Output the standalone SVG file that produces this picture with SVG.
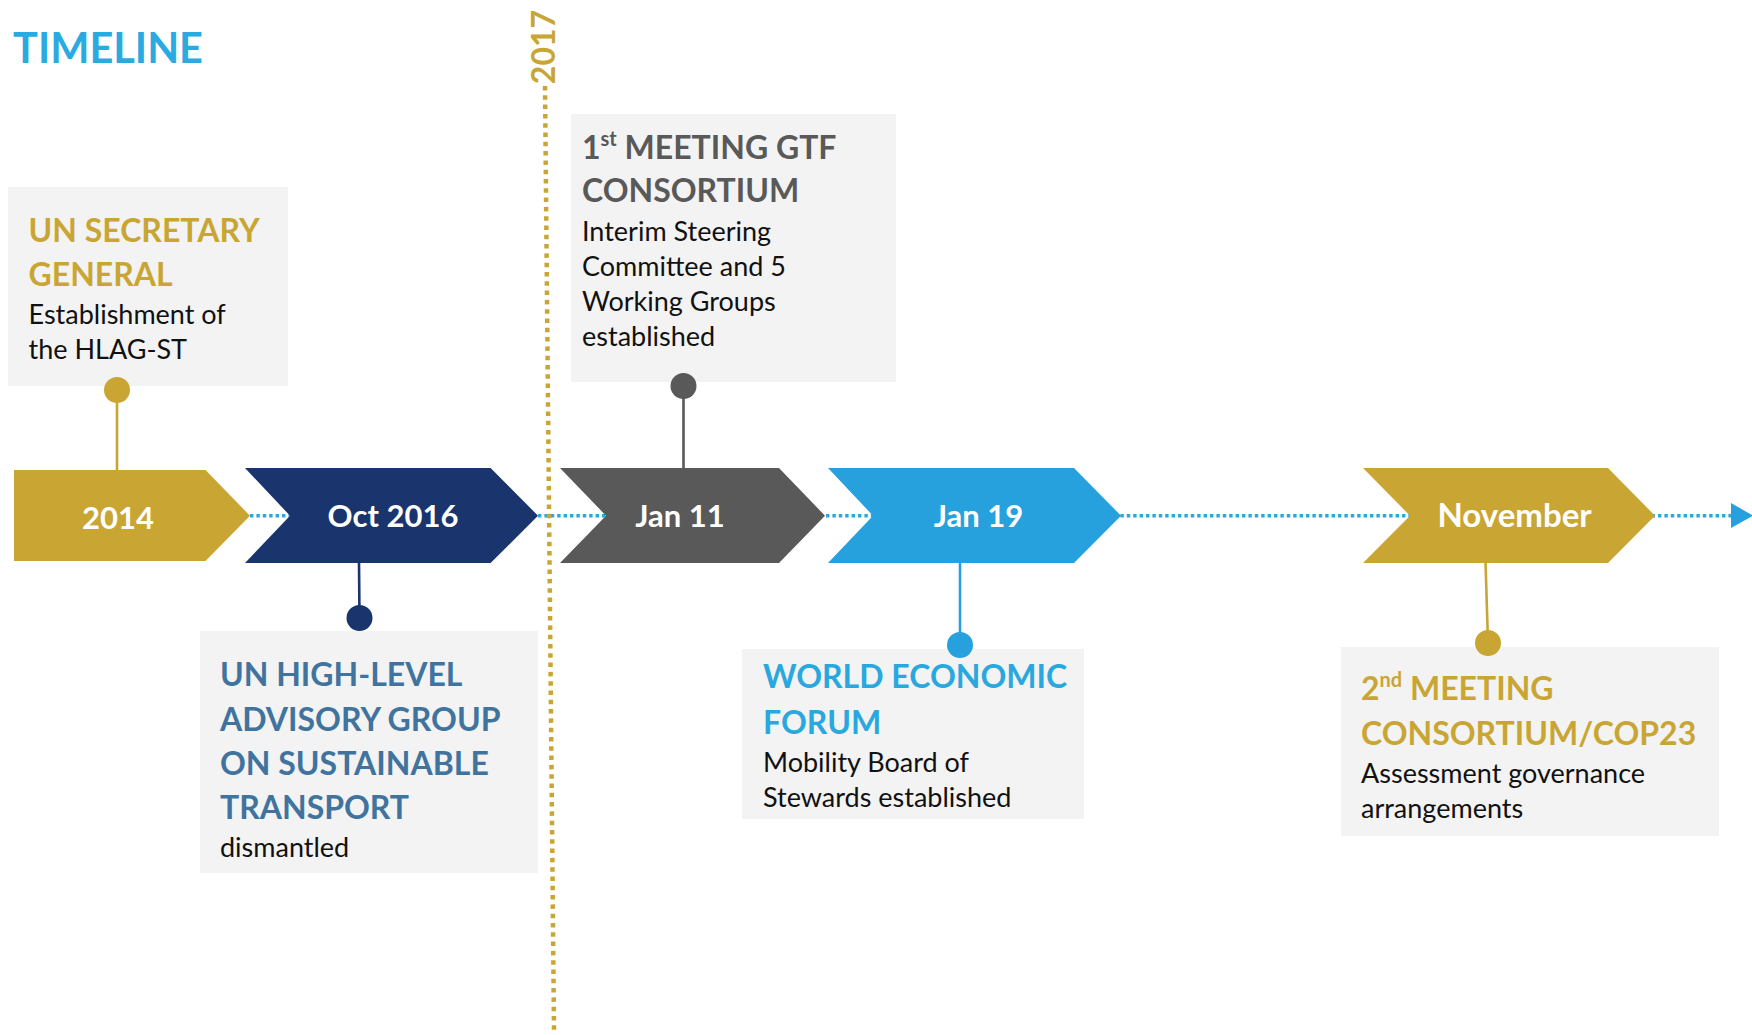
<svg xmlns="http://www.w3.org/2000/svg" width="1752" height="1035" viewBox="0 0 1752 1035">
<style>
.box{fill:#F3F3F3}
.head{font-family:Lato,"Open Sans",sans-serif;font-weight:700;font-size:32px}
.body{font-family:Lato,"Open Sans",sans-serif;font-weight:400;font-size:27px;fill:#111}
.lbl{font-family:Lato,"Open Sans",sans-serif;font-weight:700;font-size:31px;fill:#fff;text-anchor:middle}
.stem{stroke-width:2.6;fill:none}
</style>
<rect width="1752" height="1035" fill="#fff"/>
<text x="13" y="63" font-family="Lato,'Open Sans',sans-serif" font-weight="700" font-size="41.5" fill="#29ABE2">TIMELINE</text>

<g id="connectors">
  <line x1="250" y1="515.7" x2="1733" y2="515.7" stroke="#29A8E0" stroke-width="3.5" stroke-dasharray="3.4 3"/>
  <polygon points="1731,503 1753,515.7 1731,528" fill="#26A1DE"/>
  <line x1="545" y1="86" x2="554" y2="1030" stroke="#C9A633" stroke-width="4.5" stroke-dasharray="4.5 4.8"/>
  <line class="stem" x1="117" y1="390" x2="117" y2="471" stroke="#C9A633"/>
  <line class="stem" x1="359" y1="562" x2="359.5" y2="618" stroke="#1A356E"/>
  <line class="stem" x1="683.5" y1="386" x2="683.5" y2="469" stroke="#595959"/>
  <line class="stem" x1="960" y1="562" x2="960" y2="645" stroke="#26A1DE"/>
  <line class="stem" x1="1485.5" y1="562" x2="1488" y2="643" stroke="#C9A633"/>
</g>

<text transform="translate(555,47) rotate(-90)" text-anchor="middle" font-family="Lato,'Open Sans',sans-serif" font-weight="700" font-size="32" fill="#C9A633">2017</text>

<g id="node-2014">
  <polygon points="14,470 205.5,470 250,515.7 205.5,561 14,561" fill="#C9A633"/>
  <text class="lbl" x="118" y="529">2014</text>
</g>
<g id="node-oct2016">
  <polygon points="245,468 490.6,468 538,515.7 490.6,563 245,563 290,515.7" fill="#1A356E"/>
  <text class="lbl" x="393" y="527">Oct 2016</text>
</g>
<g id="node-jan11">
  <polygon points="560,468 779,468 825,515.7 779,563 560,563 606,515.7" fill="#595959"/>
  <text class="lbl" x="680" y="527">Jan 11</text>
</g>
<g id="node-jan19">
  <polygon points="828,468 1074,468 1121,515.7 1074,563 828,563 873,515.7" fill="#26A1DE"/>
  <text class="lbl" x="978.5" y="527">Jan 19</text>
</g>
<g id="node-november">
  <polygon points="1363,468 1608,468 1655,515.7 1608,563 1363,563 1410,515.7" fill="#C9A633"/>
  <text class="lbl" x="1514.5" y="527" style="font-size:33px">November</text>
</g>

<g id="box-un-secretary">
  <rect class="box" x="8" y="187" width="280" height="199"/>
  <text class="head" fill="#C9A633"><tspan x="28.5" y="242">UN SECRETARY</tspan><tspan x="28.5" y="286">GENERAL</tspan></text>
  <text class="body"><tspan x="28.5" y="324">Establishment of</tspan><tspan x="28.5" y="359">the HLAG-ST</tspan></text>
  <circle cx="117" cy="390" r="13" fill="#C9A633"/>
</g>

<g id="box-hlag">
  <rect class="box" x="200" y="631" width="338" height="242"/>
  <text class="head" fill="#40739E"><tspan x="220" y="686">UN HIGH-LEVEL</tspan><tspan x="220" y="731">ADVISORY GROUP</tspan><tspan x="220" y="775">ON SUSTAINABLE</tspan><tspan x="220" y="819">TRANSPORT</tspan></text>
  <text class="body"><tspan x="220" y="857">dismantled</tspan></text>
  <circle cx="359.5" cy="618" r="13" fill="#1A356E"/>
</g>

<g id="box-gtf">
  <rect class="box" x="571" y="114" width="325" height="268"/>
  <text class="head" fill="#595959"><tspan x="582" y="159">1</tspan><tspan style="font-size:20px" dy="-13">st</tspan><tspan dy="13"> MEETING GTF</tspan><tspan x="582" y="202">CONSORTIUM</tspan></text>
  <text class="body"><tspan x="582" y="241">Interim Steering</tspan><tspan x="582" y="276">Committee and 5</tspan><tspan x="582" y="311">Working Groups</tspan><tspan x="582" y="346">established</tspan></text>
  <circle cx="683.5" cy="386" r="13" fill="#595959"/>
</g>

<g id="box-wef">
  <rect class="box" x="742" y="649" width="342" height="170"/>
  <text class="head" fill="#29A8E0"><tspan x="763" y="688">WORLD ECONOMIC</tspan><tspan x="763" y="734">FORUM</tspan></text>
  <text class="body"><tspan x="763" y="772">Mobility Board of</tspan><tspan x="763" y="807">Stewards established</tspan></text>
  <circle cx="960" cy="645" r="13" fill="#26A1DE"/>
</g>

<g id="box-cop23">
  <rect class="box" x="1341" y="647" width="378" height="189"/>
  <text class="head" fill="#C9A633"><tspan x="1361" y="700">2</tspan><tspan style="font-size:20px" dy="-13">nd</tspan><tspan dy="13"> MEETING</tspan><tspan x="1361" y="745">CONSORTIUM/COP23</tspan></text>
  <text class="body"><tspan x="1361" y="783">Assessment governance</tspan><tspan x="1361" y="818">arrangements</tspan></text>
  <circle cx="1488" cy="643" r="13" fill="#C9A633"/>
</g>
</svg>
